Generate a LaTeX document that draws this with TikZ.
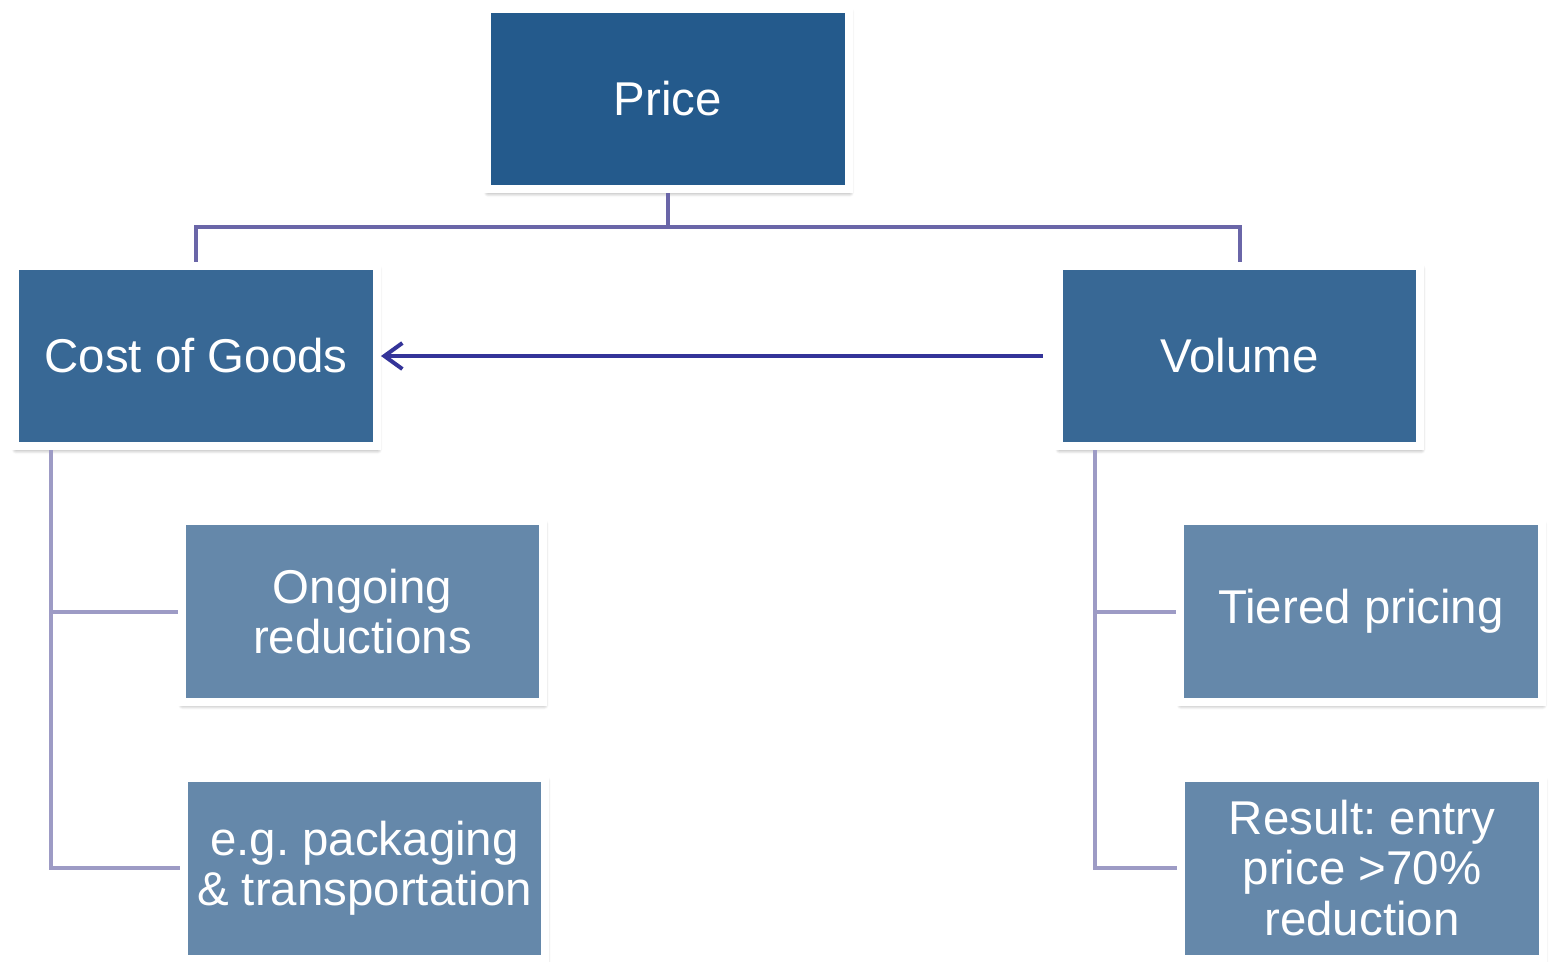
\documentclass[tikz,border=0pt]{standalone}
\usepackage{fontspec}
\setmainfont{Liberation Sans}
\usetikzlibrary{calc}
\usetikzlibrary{arrows.meta}
\usetikzlibrary{shadows.blur}
\usepackage{xcolor}

\definecolor{priceblue}{HTML}{245A8C}
\definecolor{midblue}{HTML}{386895}
\definecolor{leafblue}{HTML}{6588AA}
\definecolor{treepurple}{HTML}{6A66A8}
\definecolor{branchpurple}{HTML}{9D9BC5}
\definecolor{arrowblue}{HTML}{343499}

\begin{document}
\frenchspacing
\begin{tikzpicture}[x=0.02cm, y=-0.02cm]
        % ================= styles =================
        \tikzset{
            % box: colour fill inside a white frame, soft shadow
            box/.style={rectangle, draw=white, line width=0.16cm, minimum width=7.24cm, minimum height=3.62cm,
                        inner sep=0pt, align=center, text=white,
                        font=\fontsize{27}{28.5}\selectfont,
                        blur shadow={shadow xshift=0.5pt, shadow yshift=-1.8pt, shadow opacity=45, shadow blur radius=2.5pt, shadow blur steps=8}},
            topnode/.style={box, fill=priceblue},
            midnode/.style={box, fill=midblue},
            leafnode/.style={box, fill=leafblue},
            % edges
            tree_edge/.style={line width=0.08cm, treepurple},
            branch_edge/.style={line width=0.08cm, branchpurple},
            arrow_edge/.style={line width=0.08cm, arrowblue, -{Straight Barb[length=0.36cm, width=0.52cm, line width=0.08cm]}}
        }

        \useasboundingbox (0,0) rectangle (1550,961);

        % ================= edges under the boxes =================
        \coordinate (cost_p) at (196,356);
        \coordinate (vol_p) at (1239.5,356);

        % ================= boxes =================
        \node[topnode] (price) at (668,99) {Price};
        \node[midnode] (cost) at (cost_p) {Cost of Goods};
        \node[midnode] (volume) at (vol_p) {Volume};

        \node[leafnode] (ongoing) at (362.5,611.5) {Ongoing\\reductions};
        \node[leafnode] (packaging) at (364.5,868) {e.g. packaging\\\& transportation};
        \node[leafnode] (tiered) at (1361,611.5) {Tiered pricing};
        \node[leafnode] (result) at (1362,868) {Result: entry\\price >70\%\\reduction};

        % ================= connectors =================
        % price to both branches
        \draw[tree_edge] (price.south) -- ++(0,34) -| (cost.north);
        \draw[tree_edge] (price.south) -- ++(0,34) -| (volume.north);

        % cost of goods branch
        \draw[branch_edge] ($(cost.south west)+(40,0)$) |- (ongoing.west);
        \draw[branch_edge] ($(cost.south west)+(40,0)$) |- (packaging.west);

        % volume branch
        \draw[branch_edge] ($(volume.south west)+(40,0)$) |- (tiered.west);
        \draw[branch_edge] ($(volume.south west)+(40,0)$) |- (result.west);

        % volume drives cost of goods
        \draw[arrow_edge] ($(volume.west)+(-12,0)$) -- (cost.east);

    \end{tikzpicture}
\end{document}
